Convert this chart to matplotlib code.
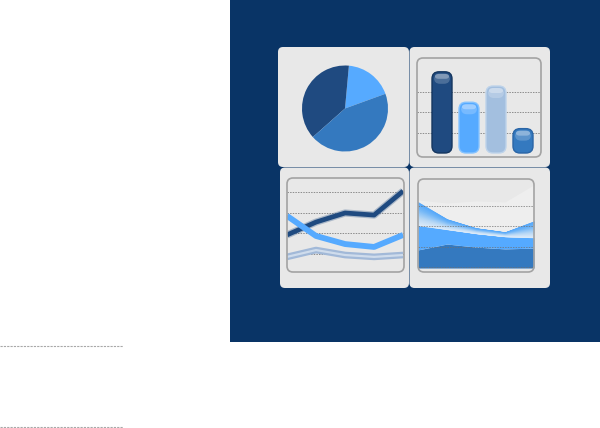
import numpy as np
import matplotlib.pyplot as plt
from matplotlib.patches import FancyBboxPatch, Rectangle
from matplotlib.colors import LinearSegmentedColormap

W, H = 600, 428

NAVY = '#093466'
PANEL = '#e8e8e8'
FRAME = '#a3a3a3'
GRID = '#8c8c8c'
DARK = '#1f4a80'
MID = '#3479bf'
LIGHT = '#56aaff'
PALE = '#a3bfdf'

# pie slices (percent), counter-clockwise from ~20 deg
pie_values = [18, 38, 44]
pie_colors = [LIGHT, DARK, MID]

# bar chart
bar_values = [4.0, 2.5, 3.3, 1.2]
bar_colors = [DARK, LIGHT, PALE, MID]
bar_edges = ['#15365f', '#86c3ff', '#bed3ea', '#2a65a6']

# line chart
line_x = [0, 1, 2, 3, 4]
line_dark = [1.92, 2.54, 2.98, 2.88, 4.04]
line_light = [2.84, 1.87, 1.48, 1.34, 1.92]
line_pale = [0.86, 1.19, 0.95, 0.86, 0.95]

# area chart
area_x = [0, 1, 2, 3, 4]
area_haze = [3.30, 3.15, 3.25, 3.20, 4.05]
area_top = [3.20, 2.36, 1.92, 1.72, 2.26]
area_gloss = [2.05, 1.85, 1.65, 1.50, 1.45]
area_base = [0.84, 1.13, 0.98, 0.89, 0.93]


def px_axes(x0, y0, x1, y1, **kw):
    ax = fig.add_axes([x0 / W, 1 - y1 / H, (x1 - x0) / W, (y1 - y0) / H], **kw)
    ax.set_facecolor('none')
    ax.axis('off')
    return ax


def rbox(ax, x0, y0, x1, y1, r, **kw):
    p = FancyBboxPatch((x0, y0), x1 - x0, y1 - y0,
                       boxstyle=f'round,pad=0,rounding_size={r}', **kw)
    ax.add_patch(p)
    return p


fig = plt.figure(figsize=(W / 100, H / 100), dpi=100, facecolor='white')

# background in pixel coordinates
bg = px_axes(0, 0, W, H)
bg.set_xlim(0, W)
bg.set_ylim(H, 0)
bg.add_patch(Rectangle((230, 0), 370, 342, fc=NAVY, ec='none'))
for y in (346, 427.3):
    bg.plot([0, 123], [y, y], color='#a8a8a8', lw=0.8, ls=(0, (2, 1)))
for x0, y0, x1, y1 in [(278, 47, 409, 167), (409.5, 47, 550, 167),
                       (280, 167.5, 409, 288), (409.5, 167.5, 550, 288)]:
    rbox(bg, x0, y0, x1, y1, 5, fc=PANEL, ec='none')

# pie
axp = px_axes(302, 65.5, 388, 151.5)
axp.pie(pie_values, colors=pie_colors, startangle=20, counterclock=True,
        wedgeprops=dict(linewidth=0))
axp.set_xlim(-1, 1)
axp.set_ylim(-1, 1)

# bars
sx, sy = 27.0, 20.3
axb = px_axes(417, 58, 541, 157)
axb.set_xlim((417 - 442) / sx, (541 - 442) / sx)
axb.set_ylim(-(157 - 153) / sy, (153 - 58) / sy)
for g in (1, 2, 3):
    axb.axhline(g, color=GRID, lw=0.7, ls=(0, (1.5, 1.2)), zorder=1)
bars = axb.bar(range(len(bar_values)), bar_values, width=20 / sx)
for rect, fc, ec in zip(bars, bar_colors, bar_edges):
    rect.set_visible(False)
    x0, w, h = rect.get_x(), rect.get_width(), rect.get_height()
    rbox(axb, x0, 0, x0 + w, h, 7 / sx, mutation_aspect=sx / sy,
         fc=fc, ec=ec, lw=1, zorder=2)
    # glossy highlight
    rbox(axb, x0 + 2 / sx, h - 12 / sy, x0 + w - 2 / sx, h - 2 / sy, 6 / sx,
         mutation_aspect=sx / sy, fc='white', ec='none', alpha=0.2, zorder=3)
    rbox(axb, x0 + 2.5 / sx, h - 7 / sy, x0 + w - 2.5 / sx, h - 2 / sy, 4 / sx,
         mutation_aspect=sx / sy, fc='white', ec='none', alpha=0.3, zorder=3)

# lines
axl = px_axes(287, 178, 404, 272)
axl.set_xlim(0, 4.03)
axl.set_ylim(0.13, 4.67)
for g in (1, 2, 3, 4):
    axl.axhline(g, color=GRID, lw=0.7, ls=(0, (1.5, 1.2)), zorder=1)
axl.plot(line_x, line_pale, color='#a2b9d8', lw=4.8, solid_capstyle='butt', zorder=2)
axl.plot(line_x, line_pale, color='#cfdcec', lw=1.6, solid_capstyle='butt', zorder=2)
axl.plot(line_x, line_dark, color=DARK, lw=5.2, alpha=0.3, solid_capstyle='butt', zorder=3)
axl.plot(line_x, line_dark, color=DARK, lw=3.4, solid_capstyle='butt', zorder=3)
axl.plot(line_x, line_light, color=LIGHT, lw=4.2, solid_capstyle='butt', zorder=4)

# areas
axa = px_axes(418, 179, 534, 272)
axa.set_xlim(0, 4)
axa.set_ylim(-0.246, 4.33)
axa.fill_between(area_x, area_top, area_haze, color='#eeeeee', lw=0, zorder=1)
axa.fill_between(area_x, -0.05, area_base, color=MID, lw=0, zorder=2)
axa.fill_between(area_x, area_base, area_gloss, color='#55aaff', lw=0, zorder=2)
cmap = LinearSegmentedColormap.from_list(
    'gloss', [(0, '#4fa5fb'), (0.3, '#70b6f8'), (0.7, '#b9d9f6'), (1, '#dcebf9')])
top = np.array(area_top)
bot = np.array(area_gloss)
n = 30
for i in range(n):
    a = top + (bot - top) * i / n
    b = top + (bot - top) * (i + 1) / n
    axa.fill_between(area_x, a, b, color=cmap((i + 0.5) / n), lw=0.3,
                     edgecolor=cmap((i + 0.5) / n), zorder=2)
for g in (0, 1, 2, 3):
    axa.axhline(g, color='#707070', alpha=0.7, lw=0.7, ls=(0, (1.5, 1.2)), zorder=4)

# chart frames on top
top_ax = px_axes(0, 0, W, H, zorder=10)
top_ax.set_xlim(0, W)
top_ax.set_ylim(H, 0)
for x0, y0, x1, y1 in [(417, 58, 541, 157), (287, 178, 404, 272), (418, 179, 534, 272)]:
    rbox(top_ax, x0, y0, x1, y1, 6, fc='none', ec=FRAME, lw=1.2)

fig.savefig('out.png', dpi=100, facecolor='white')
